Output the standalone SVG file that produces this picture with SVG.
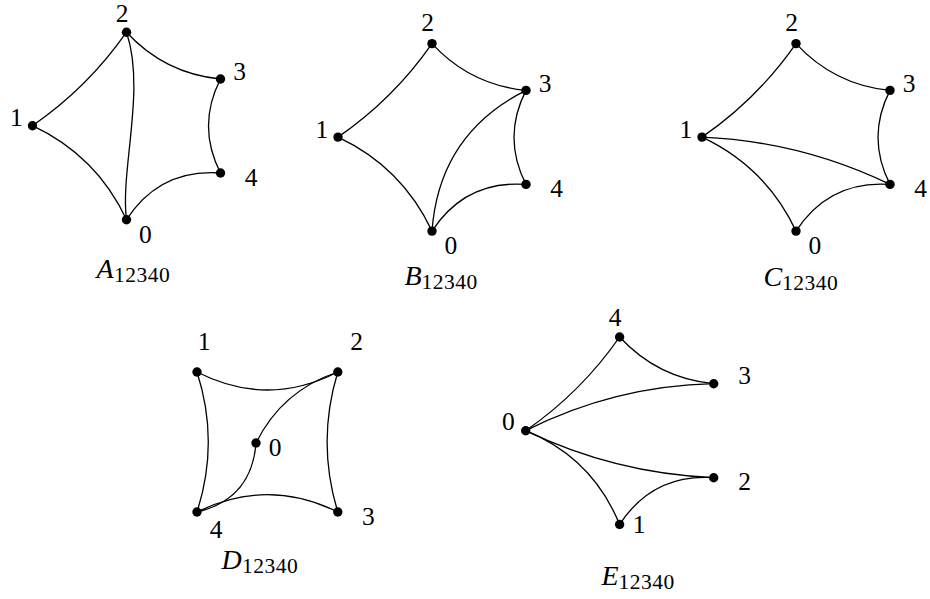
<svg xmlns="http://www.w3.org/2000/svg" width="930" height="599" viewBox="0 0 930 599">
<style>
.edges path{fill:none;stroke:#000;stroke-width:1.3}
circle{fill:#000}
text{font-family:"Liberation Serif","Times New Roman",serif;font-size:25.5px;fill:#000}
.lbl{text-anchor:middle}
.cap{font-size:28px}
.cap .v{font-style:italic}
.cap .s{font-size:21.5px;letter-spacing:0.5px}
</style>
<rect width="930" height="599" fill="#fff"/>

<g id="graph-A">
  <g id="A-edges" class="edges">
    <path d="M32.5,125.7 Q88,87.5 126.5,32.2"/>
    <path d="M126.5,32.2 Q164.6,73.5 220.5,79"/>
    <path d="M220.5,79 Q196.5,126 220.5,173"/>
    <path d="M220.5,173 Q159.7,168.6 126.5,219.7"/>
    <path d="M126.5,219.7 Q96.5,155.7 32.5,125.7"/>
    <path d="M126.5,32.2 C146,90 120,170 126.5,219.7"/>
  </g>
  <g id="A-node-0"><circle cx="126.5" cy="219.7" r="4.7"/><text class="lbl" x="145.3" y="242.5">0</text></g>
  <g id="A-node-1"><circle cx="32.5" cy="125.7" r="4.7"/><text class="lbl" x="16.3" y="126.3">1</text></g>
  <g id="A-node-2"><circle cx="126.5" cy="32.2" r="4.7"/><text class="lbl" x="122.1" y="21.5">2</text></g>
  <g id="A-node-3"><circle cx="220.5" cy="79" r="4.7"/><text class="lbl" x="239.6" y="80.4">3</text></g>
  <g id="A-node-4"><circle cx="220.5" cy="173" r="4.7"/><text class="lbl" x="251.1" y="185.9">4</text></g>
</g>

<g id="graph-B" transform="translate(305.5,11.4)">
  <g id="B-edges" class="edges">
    <path d="M32.5,125.7 Q88,87.5 126.5,32.2"/>
    <path d="M126.5,32.2 Q164.6,73.5 220.5,79"/>
    <path d="M220.5,79 Q196.5,126 220.5,173"/>
    <path d="M220.5,173 Q159.7,168.6 126.5,219.7"/>
    <path d="M126.5,219.7 Q96.5,155.7 32.5,125.7"/>
    <path d="M220.5,79 Q133.6,122.6 126.5,219.7"/>
  </g>
  <g id="B-node-0"><circle cx="126.5" cy="219.7" r="4.7"/><text class="lbl" x="145.3" y="242.5">0</text></g>
  <g id="B-node-1"><circle cx="32.5" cy="125.7" r="4.7"/><text class="lbl" x="16.3" y="126.3">1</text></g>
  <g id="B-node-2"><circle cx="126.5" cy="32.2" r="4.7"/><text class="lbl" x="122.1" y="20">2</text></g>
  <g id="B-node-3"><circle cx="220.5" cy="79" r="4.7"/><text class="lbl" x="239.6" y="80.4">3</text></g>
  <g id="B-node-4"><circle cx="220.5" cy="173" r="4.7"/><text class="lbl" x="251.1" y="185.9">4</text></g>
</g>

<g id="graph-C" transform="translate(669.5,11.4)">
  <g id="C-edges" class="edges">
    <path d="M32.5,125.7 Q88,87.5 126.5,32.2"/>
    <path d="M126.5,32.2 Q164.6,73.5 220.5,79"/>
    <path d="M220.5,79 Q196.5,126 220.5,173"/>
    <path d="M220.5,173 Q159.7,168.6 126.5,219.7"/>
    <path d="M126.5,219.7 Q96.5,155.7 32.5,125.7"/>
    <path d="M32.5,125.7 Q131.4,130 220.5,173"/>
  </g>
  <g id="C-node-0"><circle cx="126.5" cy="219.7" r="4.7"/><text class="lbl" x="145.3" y="242.5">0</text></g>
  <g id="C-node-1"><circle cx="32.5" cy="125.7" r="4.7"/><text class="lbl" x="16.3" y="126.3">1</text></g>
  <g id="C-node-2"><circle cx="126.5" cy="32.2" r="4.7"/><text class="lbl" x="122.1" y="20">2</text></g>
  <g id="C-node-3"><circle cx="220.5" cy="79" r="4.7"/><text class="lbl" x="239.6" y="80.4">3</text></g>
  <g id="C-node-4"><circle cx="220.5" cy="173" r="4.7"/><text class="lbl" x="251.1" y="185.9">4</text></g>
</g>

<g id="graph-D">
  <g id="D-edges" class="edges">
    <path d="M197,372 Q267.4,408 337.8,372"/>
    <path d="M337.8,372 Q316.4,442 337.8,512"/>
    <path d="M337.8,512 Q267.4,477.4 197,512"/>
    <path d="M197,512 Q219.6,442 197,372"/>
    <path d="M337.8,372 Q282.1,390.4 256,443"/>
    <path d="M256,443 Q251.7,499.1 197,512"/>
  </g>
  <g id="D-node-0"><circle cx="256" cy="443" r="4.7"/><text class="lbl" x="275" y="456.2">0</text></g>
  <g id="D-node-1"><circle cx="197" cy="372" r="4.7"/><text class="lbl" x="204" y="350.4">1</text></g>
  <g id="D-node-2"><circle cx="337.8" cy="372" r="4.7"/><text class="lbl" x="356.7" y="350.4">2</text></g>
  <g id="D-node-3"><circle cx="337.8" cy="512" r="4.7"/><text class="lbl" x="368.3" y="524.5">3</text></g>
  <g id="D-node-4"><circle cx="197" cy="512" r="4.7"/><text class="lbl" x="216" y="537.7">4</text></g>
</g>

<g id="graph-E">
  <g id="E-edges" class="edges">
    <path d="M525.7,430.7 Q581.1,392.3 619.6,337"/>
    <path d="M619.6,337 Q657.8,378.3 713.7,383.7"/>
    <path d="M525.7,430.7 Q614.4,385.9 713.7,383.7"/>
    <path d="M525.7,430.7 Q614.9,473.6 713.7,477.7"/>
    <path d="M525.7,430.7 Q592.4,457.8 619.6,524.5"/>
    <path d="M619.6,524.5 Q652.9,473.4 713.7,477.7"/>
  </g>
  <g id="E-node-0"><circle cx="525.7" cy="430.7" r="4.7"/><text class="lbl" x="508.3" y="430.4">0</text></g>
  <g id="E-node-1"><circle cx="619.6" cy="524.5" r="4.7"/><text class="lbl" x="639" y="532.9">1</text></g>
  <g id="E-node-2"><circle cx="713.7" cy="477.7" r="4.7"/><text class="lbl" x="744.5" y="490.4">2</text></g>
  <g id="E-node-3"><circle cx="713.7" cy="383.7" r="4.7"/><text class="lbl" x="744.5" y="384">3</text></g>
  <g id="E-node-4"><circle cx="619.6" cy="337" r="4.7"/><text class="lbl" x="615" y="326.4">4</text></g>
</g>

<g id="captions">
  <text class="cap" x="96.5" y="278.3"><tspan class="v">A</tspan><tspan class="s" x="114" y="282.3">12340</tspan></text>
  <text class="cap" x="404.5" y="285.3"><tspan class="v">B</tspan><tspan class="s" x="421.5" y="289.3">12340</tspan></text>
  <text class="cap" x="763.5" y="285.8"><tspan class="v">C</tspan><tspan class="s" x="782" y="289.8">12340</tspan></text>
  <text class="cap" x="221.5" y="569"><tspan class="v">D</tspan><tspan class="s" x="242" y="573">12340</tspan></text>
  <text class="cap" x="601.5" y="585"><tspan class="v">E</tspan><tspan class="s" x="618.5" y="589">12340</tspan></text>
</g>
</svg>
